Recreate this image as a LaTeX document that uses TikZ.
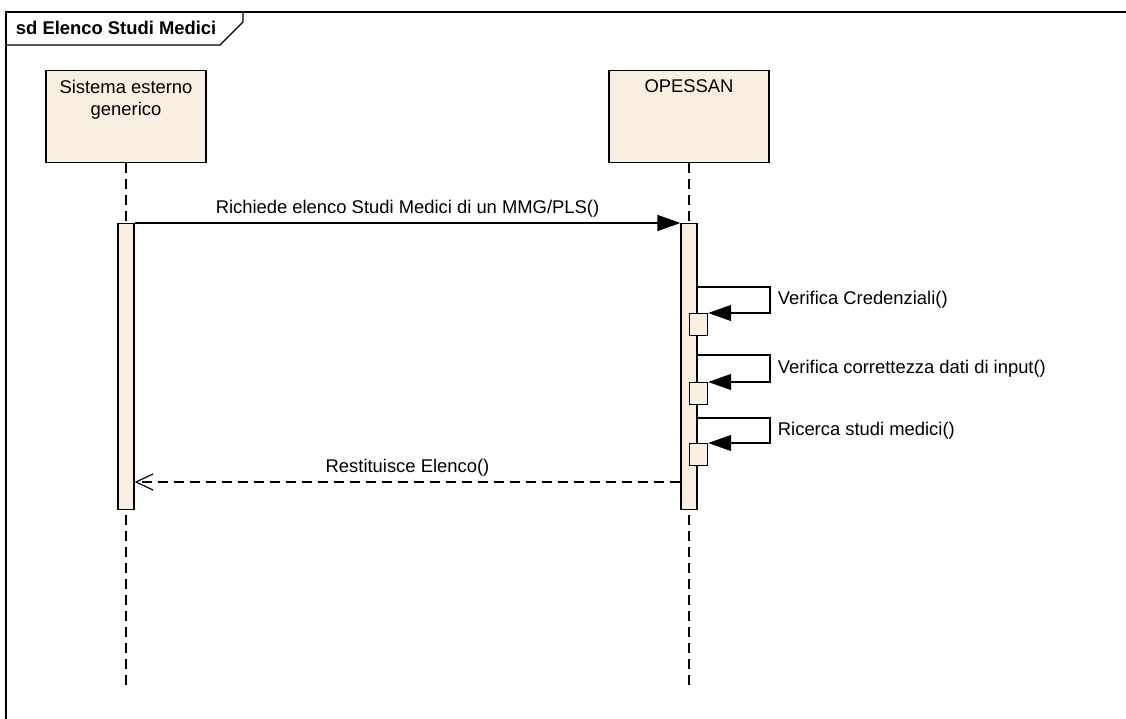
\documentclass[tikz,border=0pt]{standalone}
\usepackage{fontspec}
\setmainfont{Liberation Sans}
\usetikzlibrary{arrows.meta,positioning}
\definecolor{lifebg}{RGB}{250,240,226}
\tikzset{
  head/.style={draw,fill=lifebg,minimum width=160pt,minimum height=92pt,anchor=north},
  bar/.style={draw,fill=lifebg,minimum width=16pt,minimum height=286pt,anchor=north,inner sep=0pt},
  exec/.style={draw,fill=lifebg,minimum width=18pt,minimum height=22pt,anchor=north west,inner sep=0pt},
  life/.style={dash pattern=on 10pt off 6pt},
  call/.style={-{Triangle[length=23pt,width=16pt]}},
  reply/.style={dash pattern=on 10pt off 6pt,-{Straight Barb[length=17pt,width=16pt]}},
  msgtext/.style={font=\fontsize{18.4}{22}\selectfont},
}
\begin{document}
\begin{tikzpicture}[x=1pt,y=-1pt,line width=1.2pt]
  \useasboundingbox (0,0) rectangle (1126,719);
  \coordinate (s) at (126,70);
  \coordinate (o) at (689,70);
  \coordinate (se) at (126,685);
  \coordinate (oe) at (689,685);

  % frame
  \draw (1126,12) -- (6,12) -- (6,719);
  \draw (6,45) -- (220,45) -- (243,22) -- (243,12);
  \node[anchor=west,font=\fontsize{18.4}{22}\selectfont\bfseries] (title) at (12,28) {sd Elenco Studi Medici};

  % lifelines
  \node[head] (sys) at (s) {};
  \node[head] (ops) at (o) {};
  \node[msgtext,align=center,below=6pt of sys.north] (syst) {Sistema esterno\\generico};
  \node[msgtext,below=6pt of ops.north] (opst) {OPESSAN};
  \draw[life] (sys.south) -- (se);
  \draw[life] (ops.south) -- (oe);

  \node[bar] (sbar) at (126,223) {};
  \node[bar] (obar) at (689,223) {};
  \node[exec] (v1) at (689,313) {};
  \node[exec] (v2) at (689,382) {};
  \node[exec] (v3) at (689,443) {};

  % messages
  \draw[call] (sbar.north east) -- node[msgtext,above=2pt] {Richiede elenco Studi Medici di un MMG/PLS()} (obar.north west);
  \draw[call] (697,287) -- (770,287) |- node[msgtext,pos=0.25,right=4pt] {Verifica Credenziali()} (v1.north east);
  \draw[call] (697,355) -- (770,355) |- node[msgtext,pos=0.25,right=4pt] {Verifica correttezza dati di input()} (v2.north east);
  \draw[call] (697,418) -- (770,418) |- node[msgtext,pos=0.25,right=4pt] {Ricerca studi medici()} (v3.north east);
  \draw[reply] (obar.west |- 0,482) -- node[msgtext,above=2pt] {Restituisce Elenco()} (sbar.east |- 0,482);
\end{tikzpicture}
\end{document}
